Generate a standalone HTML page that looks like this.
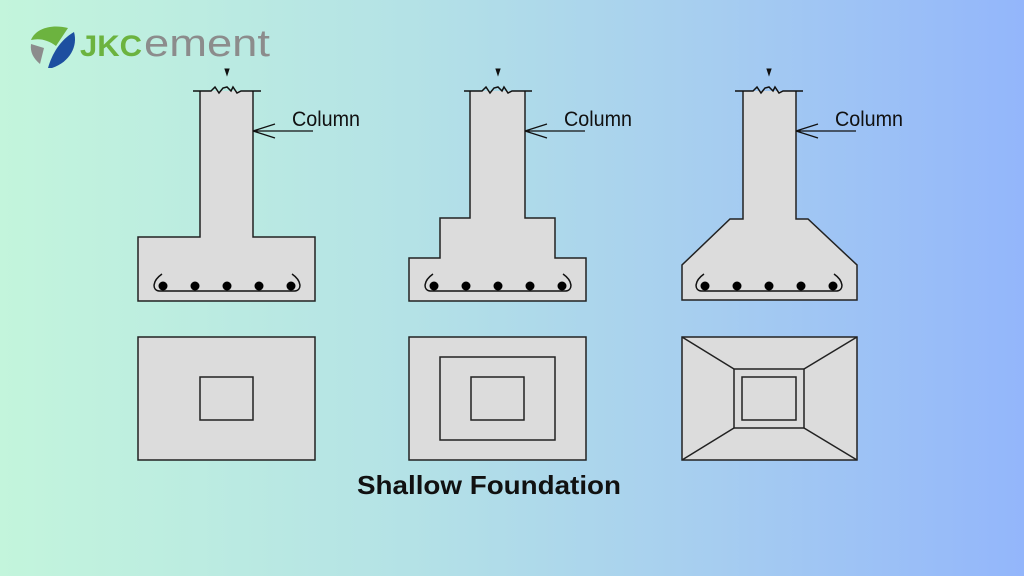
<!DOCTYPE html>
<html><head><meta charset="utf-8"><style>
html,body{margin:0;padding:0;width:1024px;height:576px;overflow:hidden}
body{background:linear-gradient(90deg,#c3f5dc 0%,#b4e2e6 40%,#a6cdf0 70%,#93b6fb 100%)}
</style></head><body>
<svg width="1024" height="576" viewBox="0 0 1024 576" xmlns="http://www.w3.org/2000/svg" style="position:absolute;left:0;top:0">
<defs>
<g id="top">
<path d="M-34,0 H-16 L-12,-4 L-8,2 L-4,-3 L0,-4 L4,0 L6,-4 L10,2 L14,0 H34" fill="none" stroke="#111" stroke-width="1.5"/>
<path d="M-2,-22 L0,-16 L2,-22 Z" fill="#111" stroke="#111" stroke-width="1"/>
</g>
<g id="bars">
<path d="M-65,-12 C-75,-5 -75,4 -68,5 H68 C75,4 75,-5 65,-12" fill="none" stroke="#111" stroke-width="1.5"/>
<circle cx="-64" cy="0" r="4.5" fill="#000"/><circle cx="-32" cy="0" r="4.5" fill="#000"/><circle cx="0" cy="0" r="4.5" fill="#000"/><circle cx="32" cy="0" r="4.5" fill="#000"/><circle cx="64" cy="0" r="4.5" fill="#000"/>
</g>
<g id="lab">
<path d="M0,0 H60 M0,0 L22,-7 M0,0 L22,7" fill="none" stroke="#111" stroke-width="1.3"/>
<text x="39" y="-5" font-family="Liberation Sans, sans-serif" font-size="21" fill="#111" textLength="68" lengthAdjust="spacingAndGlyphs">Column</text>
</g>
</defs>
<g fill="#dcdcdc" stroke="#222" stroke-width="1.5">
<path d="M200,91 V237 H138 V301 H315 V237 H253 V91"/>
<path d="M470,91 V218 H440 V258 H409 V301 H586 V258 H555 V218 H525 V91"/>
<path d="M743,91 V219 H730 L682,265 V300 H857 V265 L808,219 H796 V91"/>
<rect x="138" y="337" width="177" height="123"/>
<rect x="200" y="377" width="53" height="43"/>
<rect x="409" y="337" width="177" height="123"/>
<rect x="440" y="357" width="115" height="83"/>
<rect x="471" y="377" width="53" height="43"/>
<rect x="682" y="337" width="175" height="123"/>
<rect x="734" y="369" width="70" height="59"/>
<rect x="742" y="377" width="54" height="43"/>
<path d="M682,337 L734,369 M857,337 L804,369 M682,460 L734,428 M857,460 L804,428" fill="none"/>
</g>
<use href="#top" x="227" y="91"/><use href="#top" x="498" y="91"/><use href="#top" x="769" y="91"/>
<use href="#bars" x="227" y="286"/><use href="#bars" x="498" y="286"/><use href="#bars" x="769" y="286"/>
<use href="#lab" x="253" y="131"/><use href="#lab" x="525" y="131"/><use href="#lab" x="796" y="131"/>
<text x="357" y="494" font-family="Liberation Sans, DejaVu Sans, sans-serif" font-weight="bold" font-size="26" fill="#111" textLength="264" lengthAdjust="spacingAndGlyphs">Shallow Foundation</text>
<path d="M31,40 C36,28 52,24 68,28 L56,46 C48,40 40,38 31,40 Z" fill="#6cb33f"/>
<path d="M31,44 L44,48 L40,64 C33,58 30,52 31,44 Z" fill="#8c8c8c"/>
<path d="M74,32 C78,46 70,62 52,68 L48,68 C52,54 60,40 74,32 Z" fill="#1d4fa0"/>
<text x="80" y="56" font-family="Liberation Sans, sans-serif" font-weight="bold" font-size="30" fill="#6cb33f" textLength="62" lengthAdjust="spacingAndGlyphs">JKC</text>
<text x="144" y="56" font-family="Liberation Sans, sans-serif" font-size="38" fill="#8c8c8c" textLength="126" lengthAdjust="spacingAndGlyphs">ement</text>
</svg>
</body></html>
